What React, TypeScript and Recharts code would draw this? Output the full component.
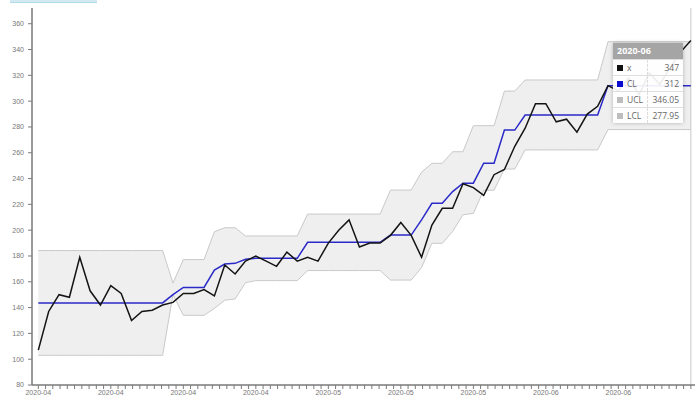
import React from "react";
import {
  ComposedChart,
  Line,
  Area,
  XAxis,
  YAxis,
  ReferenceLine,
} from "recharts";

// ---- data ----
const xValues = [
  107, 137, 150, 148, 179, 153, 142, 157, 151, 130,
  137, 138, 142, 144, 151, 151, 154, 149, 173, 166,
  176, 180, 176, 172, 183, 176, 179, 176, 190, 200,
  208, 187, 190, 190, 196, 206, 196, 179, 204, 217,
  217, 236, 233, 227, 243, 247, 265, 279, 298, 298,
  284, 286, 276, 290, 296, 312, 308, 318, 305, 322,
  313, 326, 338, 347,
];

const clValues = [
  143.6, 143.6, 143.6, 143.6, 143.6, 143.6, 143.6, 143.6, 143.6, 143.6,
  143.6, 143.6, 143.6, 150, 155.6, 155.6, 155.6, 169.1, 173.8, 174.3,
  177.4, 178.2, 178.2, 178.2, 178.2, 178.2, 190.6, 190.6, 190.6, 190.6,
  190.6, 190.6, 190.6, 190.6, 196.2, 196.2, 196.2, 208, 220.8, 220.8,
  229.9, 236.4, 236.4, 251.9, 251.9, 277.6, 277.6, 289.3, 289.3, 289.3,
  289.3, 289.3, 289.3, 289.3, 289.3, 312, 312, 312, 312, 312,
  312, 312, 312, 312,
];

const uclValues = [
  184.2, 184.2, 184.2, 184.2, 184.2, 184.2, 184.2, 184.2, 184.2, 184.2,
  184.2, 184.2, 184.2, 159, 177.2, 177.2, 177.2, 198.8, 201.9, 201.9,
  195.5, 195.5, 195.5, 195.5, 195.5, 195.5, 212.5, 212.5, 212.5, 212.5,
  212.5, 212.5, 212.5, 212.5, 231.1, 231.1, 231.1, 245, 251.8, 251.8,
  260.8, 260.8, 281, 281, 281, 307.8, 307.8, 316.4, 316.4, 316.4,
  316.4, 316.4, 316.4, 316.4, 316.4, 346.05, 346.05, 346.05, 346.05, 346.05,
  346.05, 346.05, 346.05, 346.05,
];

const lclValues = [
  103, 103, 103, 103, 103, 103, 103, 103, 103, 103,
  103, 103, 103, 150, 134, 134, 134, 139.4, 145.7, 146.7,
  159.3, 160.9, 160.9, 160.9, 160.9, 160.9, 168.7, 168.7, 168.7, 168.7,
  168.7, 168.7, 168.7, 168.7, 161.3, 161.3, 161.3, 171, 189.8, 189.8,
  199, 212, 213, 231, 231, 247.4, 247.4, 262.2, 262.2, 262.2,
  262.2, 262.2, 262.2, 262.2, 262.2, 277.95, 277.95, 277.95, 277.95, 277.95,
  277.95, 277.95, 277.95, 277.95,
];

const monthLabels = [
  "2020-04", "2020-04", "2020-04", "2020-04",
  "2020-05", "2020-05", "2020-05",
  "2020-06", "2020-06",
];
const tooltipTitle = "2020-06";
const yTicks = [80, 100, 120, 140, 160, 180, 200, 220, 240, 260, 280, 300, 320, 340, 360];

const data = xValues.map((x, i) => ({
  i,
  x,
  cl: clValues[i],
  band: [lclValues[i], uclValues[i]],
}));

const MINOR_STEP = 0.7;
const xTicks = Array.from({ length: 91 }, (_, k) => +(k * MINOR_STEP).toFixed(2));

const fmtX = (v: number) => {
  const k = Math.round(v / MINOR_STEP);
  if (k % 10 !== 0) return "";
  return monthLabels[k / 10] ?? "";
};

const last = xValues.length - 1;
const tooltipRows = [
  { name: "x", value: String(xValues[last]), color: "#111111" },
  { name: "CL", value: String(clValues[last]), color: "#0a0ad0" },
  { name: "UCL", value: uclValues[last].toFixed(2), color: "#bdbdbd" },
  { name: "LCL", value: lclValues[last].toFixed(2), color: "#bdbdbd" },
];

const axisColor = "#7a7a7a";
const tickText = { fill: "#777", fontSize: 7, fontFamily: "Liberation Sans, Arial, sans-serif" };

export default function App() {
  return (
    <div style={{ position: "absolute", left: 0, top: 0, width: 700, height: 404, background: "#fff" }}>
      <div
        style={{
          position: "absolute",
          left: 10,
          top: 0,
          width: 87,
          height: 2,
          background: "#d3eaf2",
          borderBottom: "1px solid #b3dbe7",
        }}
      />
      <ComposedChart
        width={700}
        height={404}
        data={data}
        margin={{ top: 8, right: 5, left: 0, bottom: 0 }}
      >
        <XAxis
          dataKey="i"
          type="number"
          domain={[-0.61, 63.4]}
          allowDataOverflow
          ticks={xTicks}
          interval={0}
          tickFormatter={fmtX}
          height={19}
          tickSize={4}
          tickMargin={1}
          stroke={axisColor}
          strokeWidth={1.5}
          tick={tickText}
          tickLine={{ stroke: axisColor, strokeWidth: 1 }}
        />
        <YAxis
          type="number"
          domain={[80, 372.2]}
          allowDataOverflow
          ticks={yTicks}
          interval={0}
          width={32}
          tickSize={4}
          tickMargin={4}
          stroke={axisColor}
          strokeWidth={1.5}
          tick={{ ...tickText, fontSize: 7 }}
          tickLine={{ stroke: axisColor, strokeWidth: 1 }}
        />
        <Area
          dataKey="band"
          type="linear"
          fill="#efefef"
          fillOpacity={1}
          stroke="#c9c9c9"
          strokeWidth={1}
          isAnimationActive={false}
          dot={false}
          activeDot={false}
        />
        <ReferenceLine x={last} stroke="#c8c8c8" strokeWidth={1} />
        <Line
          dataKey="cl"
          type="linear"
          stroke="#2a2ac8"
          strokeWidth={1.5}
          dot={false}
          activeDot={false}
          isAnimationActive={false}
        />
        <Line
          dataKey="x"
          type="linear"
          stroke="#141414"
          strokeWidth={1.5}
          dot={false}
          activeDot={false}
          isAnimationActive={false}
        />
      </ComposedChart>
      <div
        style={{
          position: "absolute",
          left: 613,
          top: 43,
          width: 70,
          background: "rgba(255,255,255,0.92)",
          boxShadow: "0 0 4px rgba(0,0,0,0.25)",
          fontFamily: "'Open Sans', 'Noto Sans', sans-serif",
          fontSize: 8.5,
          color: "#666",
        }}
      >
        <div
          style={{
            height: 16,
            lineHeight: "16px",
            background: "rgba(160,160,160,0.95)",
            color: "#fff",
            fontWeight: 700,
            fontSize: 9,
            paddingLeft: 4,
          }}
        >
          {tooltipTitle}
        </div>
        {tooltipRows.map((r) => (
          <div
            key={r.name}
            style={{
              display: "flex",
              height: 16,
              lineHeight: "16px",
              borderTop: "1px solid rgba(220,220,220,0.9)",
              boxSizing: "border-box",
            }}
          >
            <div
              style={{
                width: 35,
                display: "flex",
                alignItems: "center",
                paddingLeft: 4,
                boxSizing: "border-box",
                borderRight: "1px dashed #ddd",
              }}
            >
              <span style={{ display: "inline-block", width: 6, height: 6, background: r.color, marginRight: 4 }} />
              <span>{r.name}</span>
            </div>
            <div style={{ flex: 1, textAlign: "right", paddingRight: 4 }}>{r.value}</div>
          </div>
        ))}
      </div>
    </div>
  );
}
